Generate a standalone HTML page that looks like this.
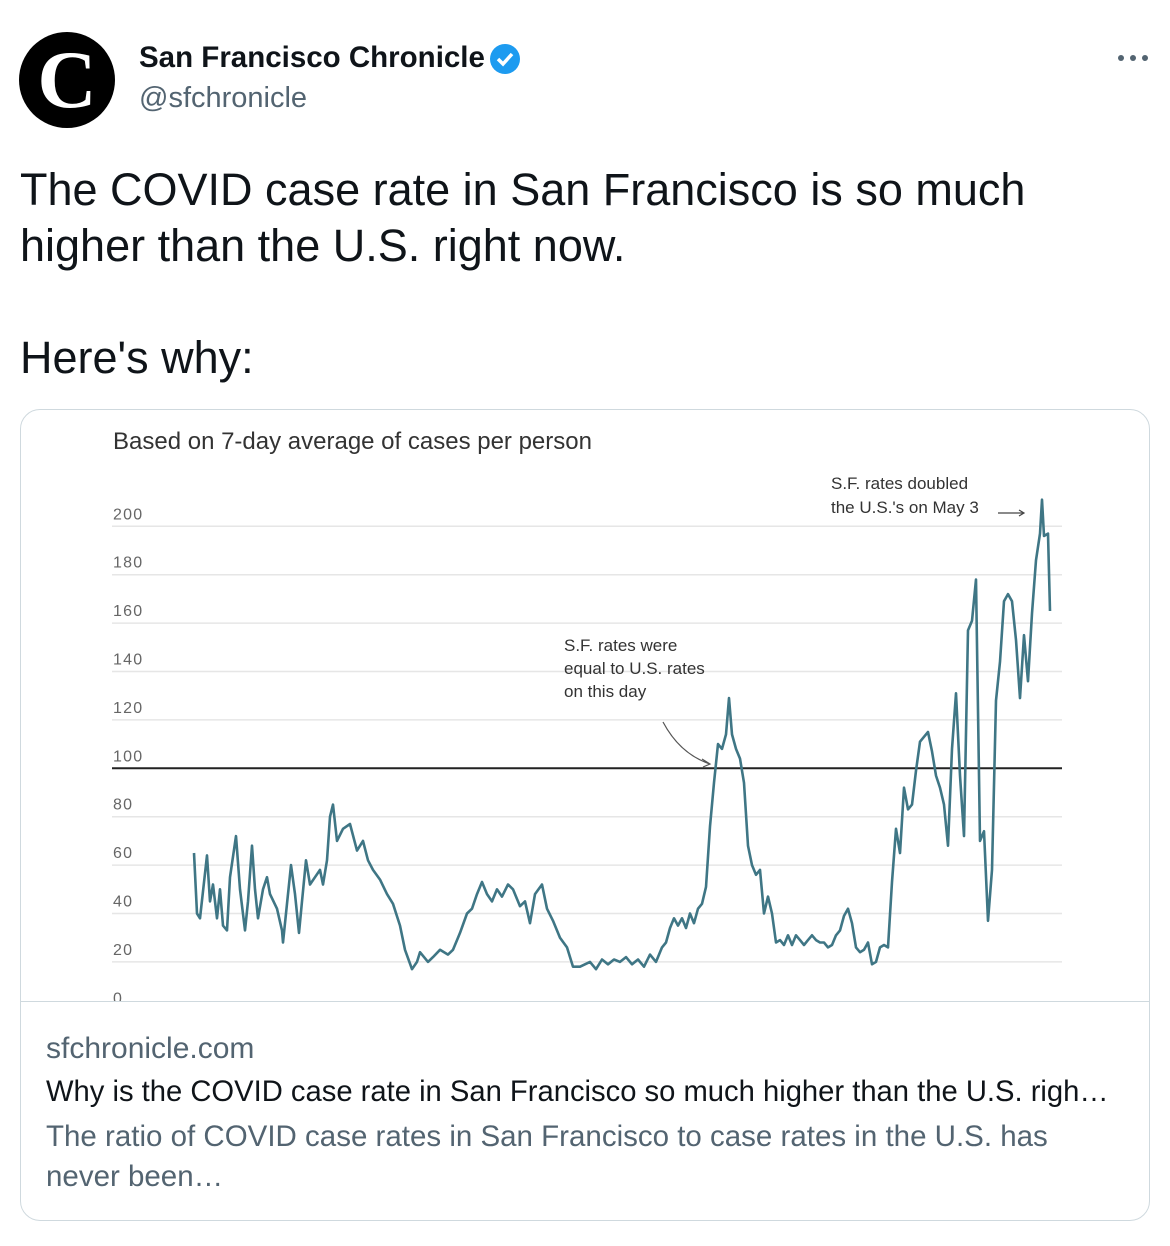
<!DOCTYPE html>
<html><head><meta charset="utf-8"><style>
body{margin:0;width:1170px;height:1246px;background:#fff;font-family:"Liberation Sans",Arial,sans-serif;position:relative;overflow:hidden}
.a{position:absolute;white-space:nowrap}
</style></head><body>
<div class="a" style="left:19px;top:32px;width:96px;height:96px;border-radius:50%;background:#000;color:#fff;font-family:'Liberation Serif',serif;font-size:82px;font-weight:bold;text-align:center;line-height:96px">C</div>
<div class="a" style="left:139px;top:41px;font-size:29.5px;font-weight:bold;color:#0f1419">San Francisco Chronicle</div>
<svg class="a" style="left:488px;top:42px" width="34" height="34" viewBox="0 0 34 34"><circle cx="17" cy="17" r="15" fill="#1d9bf0"/><path d="M10 17l5 5 9-10" stroke="#fff" stroke-width="3.5" fill="none"/></svg>
<div class="a" style="left:139px;top:82px;font-size:29px;color:#536471">@sfchronicle</div>
<svg class="a" style="left:1116px;top:52px" width="34" height="12"><circle cx="5" cy="6" r="3" fill="#536471"/><circle cx="17" cy="6" r="3" fill="#536471"/><circle cx="29" cy="6" r="3" fill="#536471"/></svg>
<div class="a" style="left:20px;top:162px;font-size:45px;color:#0f1419;line-height:56px;white-space:normal;width:1120px">The COVID case rate in San Francisco is so much<br>higher than the U.S. right now.<br><br>Here's why:</div>
<div class="a" style="left:20px;top:409px;width:1128px;height:810px;border:1px solid #cfd9de;border-radius:20px;overflow:hidden">
<svg id="chart" width="1130" height="592" style="position:absolute;left:-1px;top:-1px;font-family:'Liberation Sans',sans-serif"></svg>
<div class="a" style="left:0;top:591px;width:1130px;height:1px;background:#cfd9de"></div>
<div class="a" style="left:25px;top:622px;font-size:30px;color:#536471">sfchronicle.com</div>
<div class="a" style="left:25px;top:666px;font-size:29.2px;color:#0f1419">Why is the COVID case rate in San Francisco so much higher than the U.S. righ…</div>
<div class="a" style="left:25px;top:707px;font-size:29.5px;color:#536471;line-height:40px">The ratio of COVID case rates in San Francisco to case rates in the U.S. has<br>never been…</div>
</div>
<script>
const yTicks=[0,20,40,60,80,100,120,140,160,180,200];
const days=[0,3,6,13,16,19,23,26,29,33,36,42,46,51,54,58,61,64,69,73,76,83,88,89,93,97,101,105,108,112,116,121,126,129,133,136,139,143,149,156,163,169,174,179,186,193,199,206,211,218,223,226,234,239,246,254,259,264,266,273,278,283,288,293,298,303,308,314,319,326,331,336,341,348,353,359,366,373,379,386,396,402,408,414,420,426,432,438,444,450,456,462,468,472,476,480,484,488,492,496,500,504,508,512,516,520,524,528,532,535,538,542,546,550,554,558,562,566,570,574,578,582,586,590,594,598,602,606,610,614,618,622,626,630,634,638,642,646,650,654,658,662,666,670,674,678,682,686,690,694,698,702,706,710,714,718,722,726,730,734,738,742,746,750,754,758,762,766,770,774,778,782,786,790,794,798,802,806,810,814,818,822,826,830,834,838,842,846,848,850,854,856];
const vals=[65,40,38,64,45,52,38,50,35,33,55,72,50,33,45,68,50,38,50,55,48,42,33,28,44,60,48,32,45,62,52,55,58,52,62,80,85,70,75,77,66,70,62,58,54,48,44,35,25,17,20,24,20,22,25,23,25,30,32,40,42,48,53,48,45,50,47,52,50,43,45,36,48,52,42,37,30,26,18,18,20,17,21,19,21,20,22,19,21,18,23,20,26,28,34,38,35,38,34,40,36,42,44,51,76,94,110,108,114,129,114,108,104,94,68,60,56,58,40,47,40,28,29,27,31,27,31,29,27,29,31,29,28,28,26,27,31,33,39,42,36,26,24,25,28,19,20,26,27,26,53,75,65,92,83,85,99,111,113,115,107,97,92,85,68,108,131,97,72,157,161,178,70,74,37,58,128,144,169,172,169,153,129,155,136,164,186,197,211,196,197,165];
const svg=document.getElementById('chart');const NS='http://www.w3.org/2000/svg';
const X0=174,X1=1030,L=92,R=1042;
const dMax=days[days.length-1];
function xs(d){return X0+(d/dMax)*(X1-X0);}
function ys(v){return 601.3-2.42*v;}
function mk(t,a,txt){const e=document.createElementNS(NS,t);for(const k in a)e.setAttribute(k,a[k]);if(txt!==undefined)e.textContent=txt;svg.appendChild(e);return e;}
let t=mk('text',{x:93,y:40,'font-size':24,fill:'#333'},'Based on 7-day average of cases per person');


yTicks.forEach(v=>{
 if(v!==100&&v!==0){const g=mk('line',{x1:L,x2:R,y1:ys(v),y2:ys(v),stroke:'#e6e6e6','stroke-width':1.5});
 
 }
 const l=mk('text',{x:93,y:ys(v)-7,'font-size':16,'letter-spacing':1.2,fill:'#666'},String(v));
 
 
});
const base=mk('line',{x1:L,x2:R,y1:ys(100),y2:ys(100),stroke:'#222','stroke-width':2});


let d='';days.forEach((dd,i)=>{d+=(i?'L':'M')+xs(dd).toFixed(1)+' '+ys(vals[i]).toFixed(1);});
const p=mk('path',{d:d,fill:'none',stroke:'#3f7685','stroke-width':2.6,'stroke-linejoin':'round'});


[['S.F.  rates were',242],['equal to U.S. rates',265],['on this day',288]].forEach(a=>{const e=mk('text',{x:544,y:a[1],'font-size':17,fill:'#333'},a[0]);

});
const ar=mk('path',{d:'M643 313 Q660 345 690 355 M682 350 L690 355 L683 358',fill:'none',stroke:'#555','stroke-width':1.2});


[['S.F. rates doubled',80],["the U.S.'s on May 3",104]].forEach(a=>{const e=mk('text',{x:811,y:a[1],'font-size':17,fill:'#333'},a[0]);

});
const ar2=mk('path',{d:'M978 104 L1004 104 M999 101 L1004 104 L999 107',fill:'none',stroke:'#444','stroke-width':1.2});


</script>
</body></html>
